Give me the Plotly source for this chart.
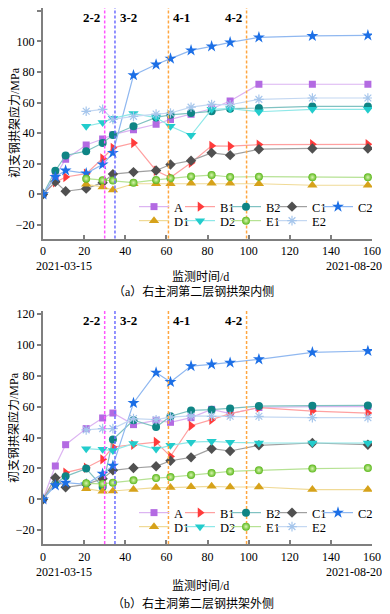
import plotly.graph_objects as go

# ---------------- data ----------------
days_full = [0, 6, 11, 21, 29, 34, 44, 55, 62, 72, 82, 91, 105, 131, 158]
days_late = [21, 29, 34, 44, 55, 62, 72, 82, 91, 105, 131, 158]

# (a) inner side
a_A  = [0, 12, 23, 32.3, 36.2, 39, 42.3, 45.8, 49, 52.3, 56, 61, 72, 72, 72]
a_B1 = [0, 7.8, 11.3, 13.5, 23.4, 30.4, 33.6, 15.4, 11, 20.6, 31.7, 31.5, 32.5, 32.7, 32.7]
a_B2 = [0, 15.4, 25.4, 28.2, 33.6, 38.8, 44.5, 50.3, 52, 53.2, 54.3, 56, 56.4, 57.5, 57.5]
a_C1 = [0, 8.2, 2, 3.7, 7.6, 13.2, 14.5, 15.6, 19.5, 22, 27.1, 25.6, 29.5, 30, 30]
a_C2 = [0, 11.3, 15.6, 13.7, 19.5, 27.1, 77.9, 84.9, 88.8, 94.2, 96.8, 99.4, 102.7, 103.6, 104]
a_D1 = [6.5, 4.8, 2.8, 6.9, 6.9, 6.9, 7.2, 7.2, 7.2, 6.9, 5.9, 5.9]
a_D2 = [44.5, 46.9, 49.7, 52.8, 50.2, 44.5, 38.6, 55.6, 56, 54, 55.6, 55.6]
a_E1 = [10.2, 9.2, 9, 7.6, 9.4, 10.5, 11.7, 12.6, 11.3, 11.5, 11.1, 11.1]
a_E2 = [54.3, 55.6, 49, 51, 52.5, 53.2, 57, 58.8, 58.6, 62.1, 63, 63]

# (b) outer side
b_A  = [0, 21.6, 35.4, 45.8, 52.7, 55.9, 48.4, 51.2, 49.9, 52.9, 58.3, 55.5, 59.5, 60, 60]
b_B1 = [0, 11, 17.3, 20.5, 25.9, 33.9, 35.4, 37.1, 27.8, 47.7, 51.6, 55.5, 59.4, 57.2, 55.9]
b_B2 = [0, 10.1, 14.9, 19.9, 8, 38.7, 51.2, 46.8, 53.8, 57.6, 58.1, 58.9, 60.4, 60.7, 60.8]
b_C1 = [0, 14, 7.8, 9.7, 13.4, 18.8, 20.3, 21.4, 25, 27.2, 32.8, 31.3, 35, 36.5, 35.4]
b_C2 = [0, 9.1, 10.8, 9.7, 16.6, 21.8, 62.4, 82.1, 76, 86.3, 87.4, 88.5, 90.7, 95.2, 96.1]
b_D1 = [6.9, 5.2, 5.4, 6.3, 7.6, 7.6, 8.2, 8.4, 8, 8, 6.3, 6.3]
b_D2 = [32.8, 32.4, 31.7, 36.1, 32.6, 35, 37, 37.6, 36.9, 36.5, 36.5, 36.5]
b_E1 = [10.4, 10, 10.8, 12.3, 13.8, 14.4, 15.8, 17, 18.1, 18.8, 19.9, 20.3]
b_E2 = [45, 45.8, 45.8, 52.3, 51.6, 53.3, 54, 53.8, 53.8, 53.8, 52.9, 52.9]

series_names = ["A", "B1", "B2", "C1", "C2", "D1", "D2", "E1", "E2"]
stages = ["2-2", "3-2", "4-1", "4-2"]
stage_days = [30, 35, 61, 99]
x_ticks = [0, 20, 40, 60, 80, 100, 120, 140, 160]
y_ticks = [-20, 0, 20, 40, 60, 80, 100, 120]
date_start = "2021-03-15"
date_end = "2021-08-20"
x_title = "监测时间/d"
y_title = "初支钢拱架应力/MPa"
captions = ["（a）右主洞第二层钢拱架内侧", "（b）右主洞第二层钢拱架外侧"]

# ---------------- page geometry ----------------
# the page body has an 8px margin, so the figure is 8px smaller than the window
OFF = 8
W, H = 390 - OFF, 614 - OFF


def px_x(px):
    return (px - OFF) / W


def px_y(py):
    return 1 - (py - OFF) / H


# ---------------- styles ----------------
FONT = "Liberation Serif, Times New Roman, Noto Sans CJK SC, serif"
styles = {
    "A":  dict(mc="#b36ae2", lc="#dcb4f2", sym="square", size=7),
    "B1": dict(mc="#ff3b3b", lc="#ffa0a0", sym="triangle-right", size=9),
    "B2": dict(mc="#0f8585", lc="#80c2c2", sym="circle", size=8),
    "C1": dict(mc="#505050", lc="#a0a0a0", sym="diamond", size=8),
    "C2": dict(mc="#1c6fe6", lc="#90b8f0", sym="star", size=9),
    "D1": dict(mc="#d6a21a", lc="#f0da96", sym="triangle-up", size=9),
    "D2": dict(mc="#22cccc", lc="#8ee8e8", sym="triangle-down", size=9),
    "E1": dict(mc="#5cb81c", lc="#b6e294", sym="circle", size=8),
    "E2": dict(mc="#a6c6ec", lc="#c4d8f2", sym="asterisk-open", size=8),
}

fig = go.Figure()

data_sets = [
    dict(A=a_A, B1=a_B1, B2=a_B2, C1=a_C1, C2=a_C2, D1=a_D1, D2=a_D2, E1=a_E1, E2=a_E2),
    dict(A=b_A, B1=b_B1, B2=b_B2, C1=b_C1, C2=b_C2, D1=b_D1, D2=b_D2, E1=b_E1, E2=b_E2),
]
axes = [("x", "y"), ("x2", "y2")]
legends = [("legend", "legend2"), ("legend3", "legend4")]

for k, ds in enumerate(data_sets):
    xa, ya = axes[k]
    for name in series_names:
        st = styles[name]
        xs = days_full if len(ds[name]) == len(days_full) else days_late
        marker = dict(color=st["mc"], symbol=st["sym"], size=st["size"], line=dict(width=0))
        if name == "E1":
            marker["gradient"] = dict(type="radial", color="#d8f5b0")
        if name == "E2":
            marker["line"] = dict(width=1.2, color=st["mc"])
        row = 0 if name in ("A", "B1", "B2", "C1", "C2") else 1
        extra = {}
        if name in ("C2", "E2"):
            extra["legendwidth"] = 20
        fig.add_trace(go.Scatter(
            x=xs, y=ds[name], name=name, mode="lines+markers",
            xaxis=xa, yaxis=ya,
            line=dict(color=st["lc"], width=1.2),
            marker=marker,
            legend=legends[k][row],
            **extra,
        ))

stage_colors = ["#ff55ff", "#6e6eff", "#ffa640", "#ffa640"]
label_side = ["left", "right", "right", "left"]

for k in range(2):
    xa, ya = axes[k]
    for s, d, c, side in zip(stages, stage_days, stage_colors, label_side):
        fig.add_shape(type="line", xref=xa, yref=ya + " domain", x0=d, x1=d, y0=0, y1=1,
                      line=dict(color=c, width=1.5, dash="3px,2px"))
        fig.add_annotation(x=d, y=116, xref=xa, yref=ya, text="<b>" + s + "</b>", showarrow=False,
                           xanchor="right" if side == "left" else "left", yanchor="middle",
                           xshift=-3 if side == "left" else 3,
                           font=dict(family=FONT, size=13, color="black"))

axis_common = dict(
    showgrid=False, zeroline=False, showline=True, linecolor="#7f7f7f", linewidth=2,
    tickfont=dict(family=FONT, size=12, color="black"),
    tickcolor="#7f7f7f", ticklen=4, tickwidth=1.5, automargin=False,
)
x_dom = [px_x(43), px_x(372)]
fig.update_layout(
    xaxis=dict(domain=x_dom, range=[0, 160], tickvals=x_ticks, ticks="inside",
               anchor="y", **axis_common),
    yaxis=dict(domain=[px_y(238.6), 1.0], range=[-29, 121.9], tickvals=y_ticks, ticks="outside",
               anchor="x", **axis_common),
    xaxis2=dict(domain=x_dom, range=[0, 160], tickvals=x_ticks, ticks="inside",
                anchor="y2", **axis_common),
    yaxis2=dict(domain=[px_y(544.1), px_y(311)], range=[-29, 122], tickvals=y_ticks,
                ticks="outside", anchor="x2", **axis_common),
)

leg_common = dict(orientation="h", xanchor="left", yanchor="middle", x=px_x(134),
                  bgcolor="rgba(0,0,0,0)", font=dict(family=FONT, size=12.5, color="black"),
                  itemwidth=30, entrywidthmode="pixels", entrywidth=1, itemclick=False)
fig.update_layout(
    legend=dict(y=px_y(207), **leg_common),
    legend2=dict(y=px_y(221), **leg_common),
    legend3=dict(y=px_y(513), **leg_common),
    legend4=dict(y=px_y(527), **leg_common),
)

# y titles, x titles, date labels, captions
text_rows = [
    dict(ycenter=123, date_y=265.5, title_y=277, cap_y=291),
    dict(ycenter=428, date_y=572, title_y=586, cap_y=603),
]


def note(x, y, text, angle=0):
    fig.add_annotation(x=px_x(x), y=px_y(y), xref="paper", yref="paper",
                       text=text, textangle=angle, showarrow=False,
                       xanchor="center", yanchor="middle",
                       font=dict(family=FONT, size=12, color="black"))


for k, tr in enumerate(text_rows):
    note(14, tr["ycenter"], y_title, angle=-90)
    note(64, tr["date_y"], date_start)
    note(354, tr["date_y"], date_end)
    note(201, tr["title_y"], x_title)
    note(193, tr["cap_y"], captions[k])

fig.update_layout(
    width=W, height=H, margin=dict(l=0, r=0, t=0, b=0),
    paper_bgcolor="white", plot_bgcolor="white", showlegend=True,
)

fig.write_html("out.html", config={"displayModeBar": False})
